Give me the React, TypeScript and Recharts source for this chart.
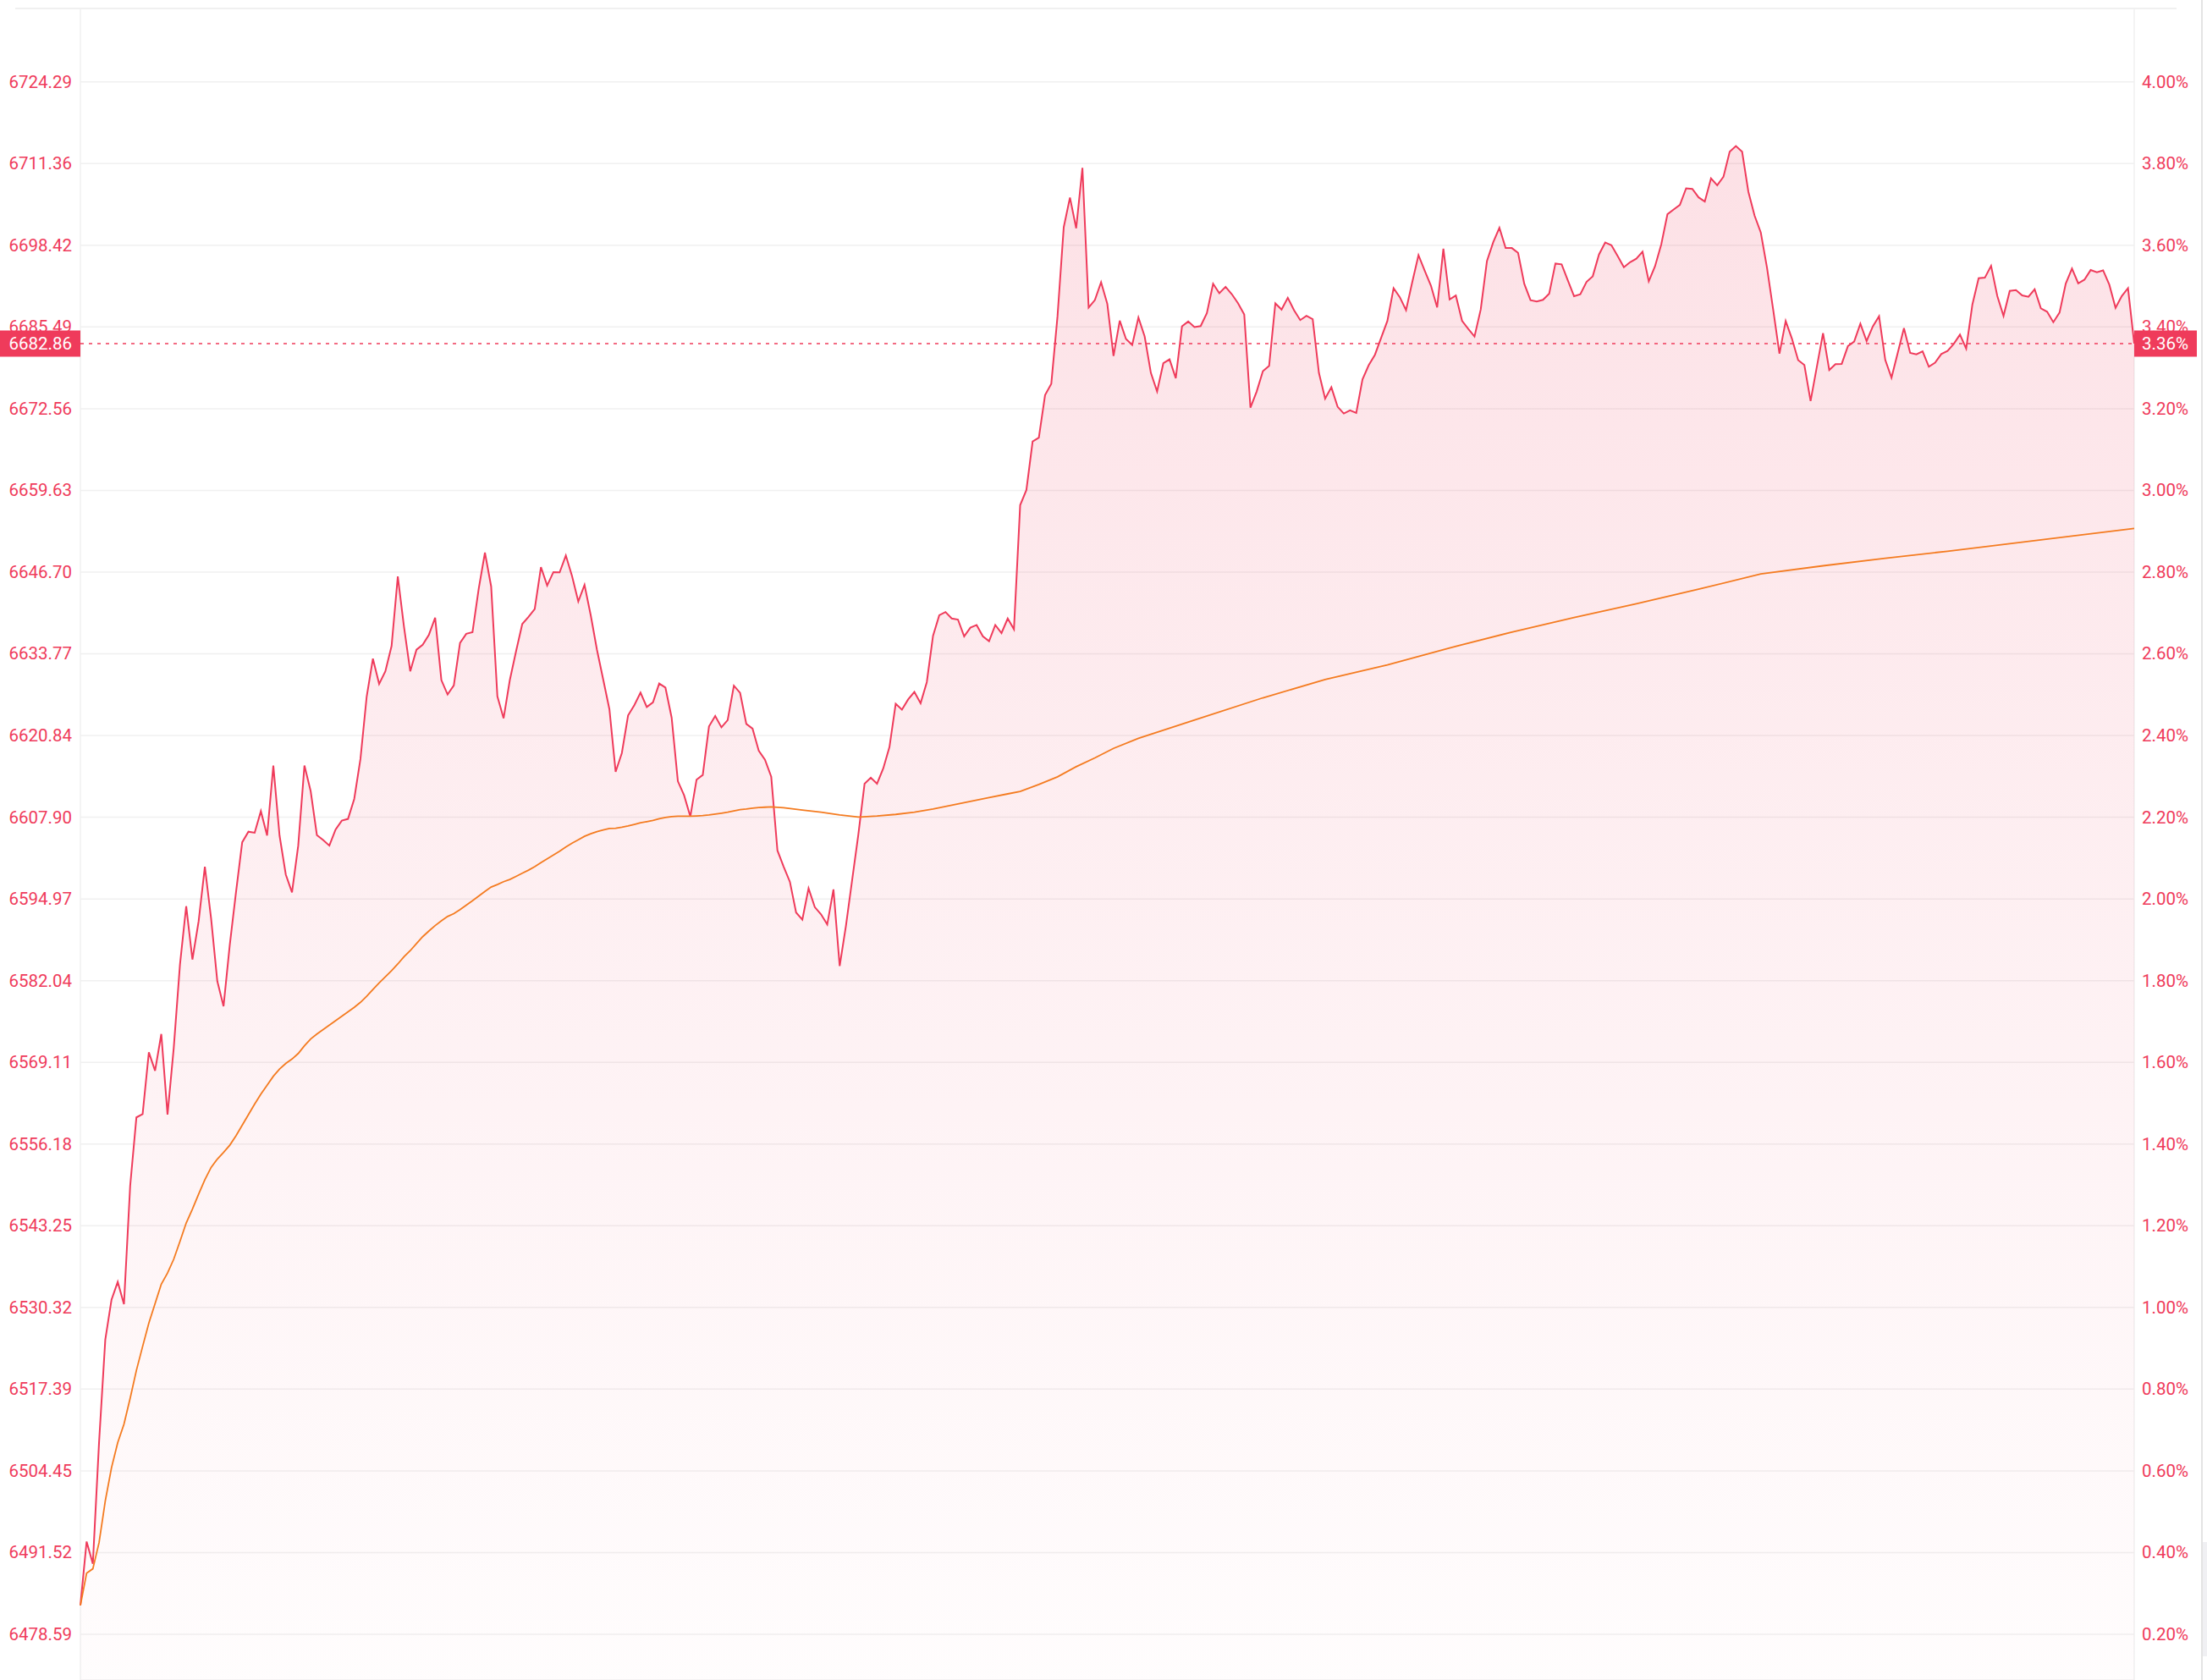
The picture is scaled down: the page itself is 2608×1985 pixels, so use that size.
import React from 'react';
import {
  ComposedChart,
  Area,
  Line,
  XAxis,
  YAxis,
  CartesianGrid,
  ReferenceLine,
} from 'recharts';

// intraday price, one point per step (331 points)
const prices = [
  6483.16, 6493.27, 6489.76, 6509.0, 6525.21, 6531.54, 6534.36, 6530.84, 6549.58, 6560.4,
  6560.92, 6570.69, 6567.79, 6573.59, 6560.84, 6571.39, 6584.59, 6593.82, 6585.38, 6591.45,
  6600.07, 6591.89, 6581.95, 6577.99, 6587.67, 6596.02, 6603.94, 6605.61, 6605.44, 6608.87,
  6605.0, 6616.08, 6605.0, 6598.84, 6596.02, 6603.41, 6616.08, 6612.03, 6605.08, 6604.29,
  6603.41, 6605.96, 6607.37, 6607.64, 6610.8, 6617.14, 6627.0, 6633.0, 6629.0, 6631.0,
  6635.0, 6646.0, 6638.0, 6631.0, 6634.41, 6635.21, 6636.79, 6639.47, 6629.61, 6627.33,
  6628.77, 6635.5, 6636.94, 6637.19, 6644.07, 6649.77, 6644.42, 6627.03, 6623.56, 6629.61,
  6634.17, 6638.48, 6639.62, 6640.85, 6647.49, 6644.57, 6646.7, 6646.65, 6649.33, 6646.06,
  6642.04, 6644.67, 6639.86, 6634.41, 6629.71, 6625.0, 6615.09, 6618.06, 6624.01, 6625.64,
  6627.63, 6625.35, 6626.09, 6629.06, 6628.42, 6623.66, 6613.6, 6611.38, 6608.01, 6613.85,
  6614.6, 6622.27, 6623.91, 6622.13, 6623.27, 6628.72, 6627.58, 6622.67, 6621.93, 6618.41,
  6617.0, 6614.33, 6602.63, 6600.07, 6597.68, 6592.81, 6591.7, 6596.65, 6593.67, 6592.55,
  6590.93, 6596.48, 6584.36, 6590.68, 6597.94, 6605.2, 6613.22, 6614.16, 6613.22, 6615.62,
  6619.03, 6625.86, 6624.93, 6626.55, 6627.74, 6625.95, 6629.28, 6636.63, 6639.87, 6640.38,
  6639.36, 6639.19, 6636.54, 6637.91, 6638.33, 6636.54, 6635.77, 6638.33, 6637.05, 6639.36,
  6637.65, 6657.3, 6659.69, 6667.37, 6667.97, 6674.72, 6676.51, 6687.19, 6701.28, 6705.98,
  6701.11, 6710.68, 6688.56, 6689.75, 6692.57, 6689.15, 6680.9, 6686.49, 6683.59, 6682.65,
  6686.98, 6683.99, 6678.23, 6675.28, 6679.75, 6680.37, 6677.38, 6685.6, 6686.36, 6685.47,
  6685.64, 6687.7, 6692.34, 6690.83, 6691.85, 6690.69, 6689.26, 6687.48, 6672.73, 6675.28,
  6678.5, 6679.35, 6689.22, 6688.24, 6690.11, 6688.15, 6686.58, 6687.25, 6686.72, 6678.23,
  6674.16, 6675.95, 6672.87, 6671.8, 6672.29, 6671.89, 6677.2, 6679.44, 6681.09, 6683.77,
  6686.45, 6691.63, 6690.2, 6688.15, 6692.61, 6696.86, 6694.4, 6692.03, 6688.59, 6697.88,
  6689.84, 6690.47, 6686.46, 6685.19, 6683.98, 6688.26, 6695.93, 6698.87, 6701.19, 6697.98,
  6697.98, 6697.22, 6692.32, 6689.73, 6689.51, 6689.78, 6690.76, 6695.53, 6695.4, 6692.86,
  6690.36, 6690.67, 6692.63, 6693.52, 6696.96, 6698.87, 6698.43, 6696.73, 6694.95, 6695.75,
  6696.29, 6697.4, 6692.72, 6695.08, 6698.52, 6703.33, 6704.09, 6704.81, 6707.44, 6707.35,
  6706.01, 6705.34, 6709.0, 6707.93, 6709.26, 6713.23, 6714.12, 6713.23, 6706.9, 6703.11,
  6700.44, 6694.86, 6688.17, 6681.26, 6686.43, 6683.65, 6680.25, 6679.47, 6673.76, 6679.16,
  6684.51, 6678.67, 6679.6, 6679.65, 6682.46, 6683.17, 6686.02, 6683.26, 6685.58, 6687.18,
  6680.27, 6677.46, 6681.39, 6685.31, 6681.39, 6681.16, 6681.65, 6679.2, 6679.83, 6681.21,
  6681.7, 6682.81, 6684.28, 6682.06, 6689.06, 6693.2, 6693.29, 6695.16, 6690.39, 6687.23,
  6691.2, 6691.33, 6690.48, 6690.26, 6691.46, 6688.43, 6687.9, 6686.25, 6687.76, 6692.36,
  6694.72, 6692.4, 6692.98, 6694.5, 6694.14, 6694.45, 6692.18, 6688.52, 6690.39, 6691.64,
  6682.86,
];

// average price line, read where visible (index -> value)
const avgAt = [
  0, 1, 2, 3, 4, 5, 6, 7, 8, 9, 10, 11, 12, 13, 14, 15, 16, 17, 18, 19,
  20, 21, 22, 23, 24, 25, 26, 27, 28, 29, 30, 31, 32, 33, 34, 35, 36, 37, 38, 39,
  40, 41, 42, 43, 44, 45, 46, 47, 48, 49, 50, 51, 52, 53, 54, 55, 56, 57, 58, 59,
  60, 61, 62, 63, 64, 65, 66, 67, 68, 69, 70, 71, 72, 73, 74, 75, 76, 77, 78, 79,
  80, 81, 82, 83, 84, 85, 86, 87, 88, 89, 90, 91, 92, 93, 94, 95, 96, 97, 98, 99,
  100, 101, 102, 103, 104, 105, 106, 107, 108, 109, 110, 111,
  113, 116, 119, 122, 125, 128, 131, 134, 137, 140, 143, 146, 149, 151, 154, 157, 160, 163, 166,
  170, 180, 190, 200, 210, 220, 230, 240, 250, 260, 270, 280, 290, 300, 310, 320, 330,
];
const avgValues = [
  6483.16, 6488.26, 6488.96, 6493.1, 6499.7, 6504.97, 6508.93, 6511.84, 6515.97, 6520.37,
  6524.15, 6527.85, 6530.93, 6534.01, 6535.76, 6537.96, 6540.78, 6543.68, 6545.88, 6548.26,
  6550.54, 6552.48, 6553.8, 6554.85, 6556.0, 6557.49, 6559.16, 6560.84, 6562.51, 6564.09,
  6565.5, 6566.91, 6568.05, 6568.93, 6569.63, 6570.51, 6571.74, 6572.8, 6573.59, 6574.3,
  6575.0, 6575.7, 6576.41, 6577.11, 6577.81, 6578.61, 6579.57, 6580.63, 6581.69, 6582.65,
  6583.62, 6584.68, 6585.82, 6586.79, 6587.9, 6589.0, 6589.9, 6590.76, 6591.51, 6592.2,
  6592.65, 6593.29, 6593.99, 6594.68, 6595.42, 6596.17, 6596.86, 6597.26, 6597.7, 6598.05,
  6598.54, 6599.04, 6599.53, 6600.08, 6600.72, 6601.32, 6601.91, 6602.51, 6603.2, 6603.8,
  6604.34, 6604.88, 6605.28, 6605.63, 6605.88, 6606.12, 6606.17, 6606.32, 6606.52, 6606.77,
  6607.02, 6607.21, 6607.41, 6607.66, 6607.86, 6608.01, 6608.06, 6608.06, 6608.06, 6608.11,
  6608.16, 6608.26, 6608.4, 6608.55, 6608.7, 6608.9, 6609.1, 6609.2, 6609.34, 6609.44,
  6609.49, 6609.54,
  6609.4, 6609.04, 6608.7, 6608.26, 6607.92, 6608.09, 6608.35, 6608.7, 6609.2, 6609.81,
  6610.4, 6611.0, 6611.6, 6612.0, 6613.1, 6614.3, 6615.9, 6617.3, 6618.8,
  6620.4, 6623.6, 6626.8, 6629.7, 6632.0, 6634.7, 6637.2, 6639.5, 6641.7, 6644.0,
  6646.4, 6647.7, 6648.9, 6650.0, 6651.2, 6652.4, 6653.6,
];

const priceTicks = [
  6478.59, 6491.52, 6504.45, 6517.39, 6530.32, 6543.25, 6556.18, 6569.11, 6582.04, 6594.97,
  6607.9, 6620.84, 6633.77, 6646.7, 6659.63, 6672.56, 6685.49, 6698.42, 6711.36, 6724.29,
];
const pctLabels = [
  '0.20%', '0.40%', '0.60%', '0.80%', '1.00%', '1.20%', '1.40%', '1.60%', '1.80%', '2.00%',
  '2.20%', '2.40%', '2.60%', '2.80%', '3.00%', '3.20%', '3.40%', '3.60%', '3.80%', '4.00%',
];
const timeTicks = [0, 30, 60, 90, 120, 150, 180, 210, 240, 270, 300, 330];

const lastPrice = 6682.86;
const lastPct = '3.36%';

const RED = '#ef3b5b';
const ORANGE = '#f47b20';
const GRID = '#f0f0f0';
const FONT = 'Roboto, "Noto Sans", sans-serif';

const avgMap = new Map(avgAt.map((i, k) => [i, avgValues[k]]));
const data = prices.map((p, i) => ({
  i,
  price: p,
  avg: avgMap.has(i) ? avgMap.get(i) : null,
}));

function LeftTick({ y, payload }: any) {
  return (
    <text x={85} y={y} textAnchor="end" dominantBaseline="central"
      fill={RED} fontSize={20.5} fontFamily={FONT}>
      {Number(payload.value).toFixed(2)}
    </text>
  );
}

function RightTick({ y, index }: any) {
  return (
    <text x={2531} y={y} textAnchor="start" dominantBaseline="central"
      fill={RED} fontSize={20.5} fontFamily={FONT}>
      {pctLabels[index]}
    </text>
  );
}

function LastBadges({ viewBox }: any) {
  const y = viewBox.y;
  return (
    <g>
      <rect x={0} y={y - 15.5} width={95} height={31} fill={RED} />
      <text x={85} y={y} textAnchor="end" dominantBaseline="central"
        fill="#fff" fontSize={20.5} fontFamily={FONT}>
        {lastPrice.toFixed(2)}
      </text>
      <rect x={2522} y={y - 15.5} width={74} height={31} fill={RED} />
      <text x={2531} y={y} textAnchor="start" dominantBaseline="central"
        fill="#fff" fontSize={20.5} fontFamily={FONT}>
        {lastPct}
      </text>
    </g>
  );
}

export default function App() {
  return (
    <div style={{ position: 'absolute', left: 0, top: 0, width: 2608, height: 1985, overflow: 'hidden', background: '#fff' }}>
      <div style={{ position: 'absolute', left: 18, top: 9, width: 2554, height: 2, background: GRID }} />
      <div style={{ position: 'absolute', left: 2601, top: 0, width: 1.5, height: 1985, background: '#e4e4e4' }} />
      <div style={{ position: 'absolute', left: 2603, top: 1822, width: 5, height: 135, background: '#f0f0f3' }} />
      <div style={{ position: 'absolute', left: 0, top: 0 }}>
        <ComposedChart width={2608} height={1985} data={data}
          margin={{ top: 10, right: 0, bottom: 0, left: 0 }}>
          <defs>
            <linearGradient id="redFill" x1="0" y1="0" x2="0" y2="1">
              <stop offset="0%" stopColor={RED} stopOpacity={0.26} />
              <stop offset="50%" stopColor={RED} stopOpacity={0.13} />
              <stop offset="100%" stopColor={RED} stopOpacity={0.02} />
            </linearGradient>
          </defs>
          <CartesianGrid yAxisId="left" stroke={GRID} strokeWidth={1.5} />
          <XAxis dataKey="i" type="number" domain={[0, 330]} ticks={timeTicks}
            height={0} tick={false} axisLine={false} tickLine={false} />
          <YAxis yAxisId="left" orientation="left" width={95} type="number"
            domain={[6471.36, 6735.9]} allowDataOverflow ticks={priceTicks}
            axisLine={false} tickLine={false} tick={<LeftTick />} />
          <YAxis yAxisId="right" orientation="right" width={86} type="number"
            domain={[6471.36, 6735.9]} allowDataOverflow ticks={priceTicks}
            axisLine={false} tickLine={false} tick={<RightTick />} />
          <Area yAxisId="left" type="linear" dataKey="price" stroke={RED} strokeWidth={2}
            fill="url(#redFill)" dot={false} activeDot={false} isAnimationActive={false} />
          <Line yAxisId="left" type="linear" dataKey="avg" stroke={ORANGE} strokeWidth={1.8}
            dot={false} activeDot={false} connectNulls isAnimationActive={false} />
          <ReferenceLine yAxisId="left" y={lastPrice} stroke={RED} strokeWidth={1.5}
            strokeDasharray="4 6" label={<LastBadges />} />
        </ComposedChart>
      </div>
    </div>
  );
}
